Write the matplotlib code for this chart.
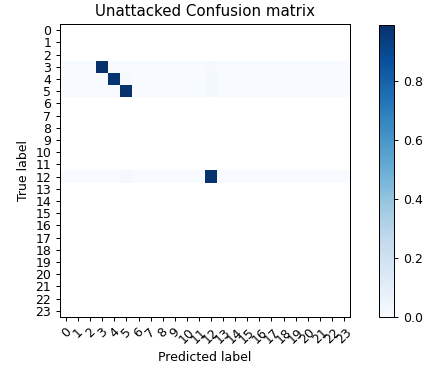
import numpy as np
import matplotlib
matplotlib.use('Agg')
import matplotlib.pyplot as plt

# class labels and the rows that have samples (others are NaN after normalising)
classes = [str(i) for i in range(24)]
row_ids = [3, 4, 5, 12]
row_values = {
    3: {3: 0.99, 12: 0.01},
    4: {4: 0.97, 5: 0.01, 12: 0.02},
    5: {5: 0.98, 12: 0.02},
    12: {12: 0.98, 5: 0.02},
}

W, H, DPI = 427, 368, 90


def build_matrix():
    n = len(classes)
    cm = np.full((n, n), np.nan)
    for r in row_ids:
        cm[r, :] = 0.0
        for c, v in row_values[r].items():
            cm[r, c] = v
    return cm


def plot(cm):
    fig = plt.figure(figsize=(W / DPI, H / DPI), dpi=DPI)
    ax = fig.add_axes([60 / W, 51 / H, 290 / W, 293 / H])
    cax = fig.add_axes([379 / W, 51 / H, 15 / W, 292 / H])

    im = ax.imshow(cm, interpolation='nearest', cmap=plt.cm.Blues, aspect='auto')
    ax.set_title('Unattacked Confusion matrix', fontsize=12)
    cb = fig.colorbar(im, cax=cax)
    cb.set_ticks([0.0, 0.2, 0.4, 0.6, 0.8])
    cb.ax.tick_params(labelsize=10)

    tick_marks = np.arange(len(classes))
    ax.set_xticks(tick_marks)
    ax.set_xticklabels(classes, rotation=45, fontsize=10)
    ax.set_yticks(tick_marks)
    ax.set_yticklabels(classes, fontsize=10)
    ax.set_ylabel('True label', fontsize=10)
    ax.set_xlabel('Predicted label', fontsize=10)
    return fig


def main():
    fig = plot(build_matrix())
    fig.savefig('out.png', dpi=DPI)


if __name__ == '__main__':
    main()
